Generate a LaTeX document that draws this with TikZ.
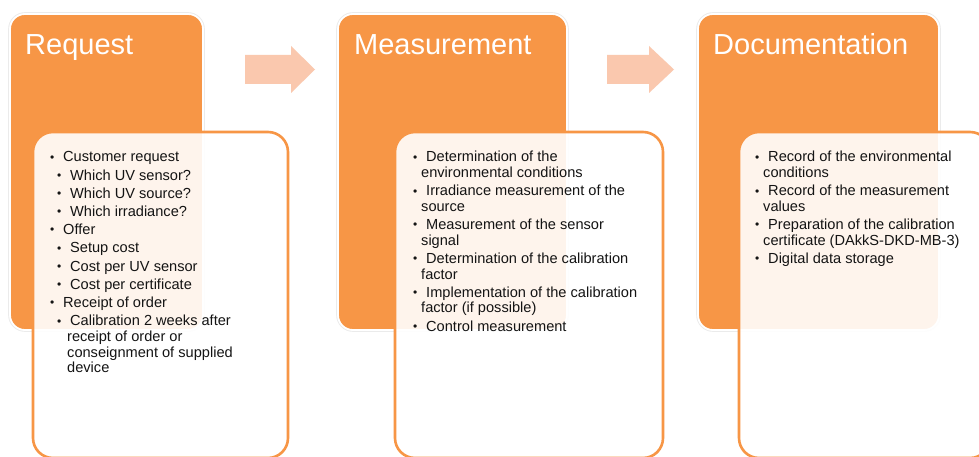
\documentclass[tikz,border=0pt]{standalone}
\usepackage{fontspec}
\setmainfont{Liberation Sans}
\definecolor{accent}{HTML}{F79646}
\definecolor{arrowfill}{HTML}{FAC8AE}
\definecolor{bodytext}{HTML}{141414}

% One list entry: #1 bullet position, #2 text start, #3 indent of wrapped lines, #4 text
\newcommand\listentry[4]{\par\leftskip=#3\relax\noindent
  \hspace*{\dimexpr#1-#3\relax}\makebox[\dimexpr#2-#1\relax][l]{\raisebox{0.8pt}{\fontsize{12}{12}\selectfont •}}#4}
\newcommand\lone[1]{\listentry{0pt}{13pt}{13pt}{#1}}
\newcommand\ltwo[1]{\listentry{7pt}{20pt}{17pt}{#1}}
\newcommand\lwrap[1]{\listentry{0pt}{13pt}{8pt}{#1}}

\tikzset{
  phasebox/.style={fill=accent, rounded corners=15pt},
  phasehalo/.style={draw=black!8, line width=3.6pt, rounded corners=15pt},
  phaseedge/.style={draw=white, line width=1.8pt, rounded corners=15pt},
  detailbox/.style={draw=accent, line width=2.6pt, fill=white, fill opacity=0.9, rounded corners=20pt},
  phasetitle/.style={anchor=base west, inner sep=0pt, text=white, font=\fontsize{29}{29}\selectfont},
  detailtext/.style={anchor=base west, inner sep=0pt, text=bodytext,
    font=\fontsize{14.6}{15.6}\selectfont},
  steparrow/.style={fill=arrowfill, draw=none}
}

\begin{document}
\begin{tikzpicture}[x=1pt,y=-1pt]
  \useasboundingbox (0,0) rectangle (979,457);
  \fill[white] (0,0) rectangle (979,457);

  % orange phase panels
  \foreach \xa/\xb in {10/203, 338/567, 698/939}{
    \draw[phasehalo] (\xa,14) rectangle (\xb,330);
    \fill[phasebox] (\xa,14) rectangle (\xb,330);
    \draw[phaseedge] (\xa,14) rectangle (\xb,330);
  }

  % arrows between phases
  \fill[steparrow] (245,55) -- (291,55) -- (291,46) -- (315,69.5) -- (291,93) -- (291,84) -- (245,84) -- cycle;
  \fill[steparrow] (607,55) -- (649,55) -- (649,46) -- (674,69.5) -- (649,93) -- (649,84) -- (607,84) -- cycle;

  % detail panels
  \draw[detailbox] (33,132) rectangle (288,458);
  \draw[detailbox] (395,132) rectangle (663,458);
  \draw[detailbox] (739,132) rectangle (990,458);

  % titles
  \node[phasetitle] (request) at (25,55) {Request};
  \node[phasetitle] (measurement) at (354,55) {Measurement};
  \node[phasetitle] (documentation) at (713,55) {Documentation};

  % lists
  \node[detailtext] (requestlist) at (50,162) {\parbox[t]{240pt}{\parskip=2.6pt
    \lone{Customer request}
    \ltwo{Which UV sensor?}
    \ltwo{Which UV source?}
    \ltwo{Which irradiance?}
    \lone{Offer}
    \ltwo{Setup cost}
    \ltwo{Cost per UV sensor}
    \ltwo{Cost per certificate}
    \lone{Receipt of order}
    \ltwo{Calibration 2 weeks after\\receipt of order or\\conseignment of supplied\\device}}};

  \node[detailtext] (measurementlist) at (413,162) {\parbox[t]{245pt}{\parskip=2.6pt
    \lwrap{Determination of the\\environmental conditions}
    \lwrap{Irradiance measurement of the\\source}
    \lwrap{Measurement of the sensor\\signal}
    \lwrap{Determination of the calibration\\factor}
    \lwrap{Implementation of the calibration\\factor (if possible)}
    \lwrap{Control measurement}}};

  \node[detailtext] (documentationlist) at (755,162) {\parbox[t]{230pt}{\parskip=2.6pt
    \lwrap{Record of the environmental\\conditions}
    \lwrap{Record of the measurement\\values}
    \lwrap{Preparation of the calibration\\certificate (DAkkS-DKD-MB-3)}
    \lwrap{Digital data storage}}};
\end{tikzpicture}
\end{document}
